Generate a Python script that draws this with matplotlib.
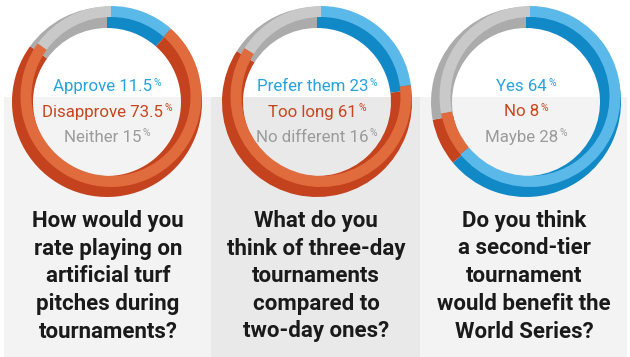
import matplotlib
matplotlib.use("Agg")
import matplotlib.pyplot as plt
from matplotlib.patches import Rectangle, Wedge

W, H = 630, 357

# ---- data ----
questions = [
    ["How would you", "rate playing on", "artificial turf", "pitches during", "tournaments?"],
    ["What do you", "think of three-day", "tournaments", "compared to", "two-day ones?"],
    ["Do you think", "a second-tier", "tournament", "would benefit the", "World Series?"],
]
labels1 = ["Approve", "Disapprove", "Neither"]
values1 = [11.5, 73.5, 15]
labels2 = ["Prefer them", "Too long", "No different"]
values2 = [23, 61, 16]
labels3 = ["Yes", "No", "Maybe"]
values3 = [64, 8, 28]
charts = [(labels1, values1), (labels2, values2), (labels3, values3)]

# ---- style ----
dark_cols = ["#1089c6", "#c4421d", "#ababab"]
light_cols = ["#5bb9ea", "#e06b3c", "#c9c9c9"]
text_cols = ["#27a2dd", "#c8461f", "#9b9b9b"]
panel_cols = ["#f3f3f3", "#e9e9e9", "#f3f3f3"]
centers_x = [107, 317, 526]
cy_px = 102
R, RW = 95, 21
LR, LW = 90.5, 11
OFFX, OFFY = 4, 5.5

fig = plt.figure(figsize=(W / 100, H / 100), dpi=100)
fig.patch.set_facecolor("white")
ax = fig.add_axes([0, 0, 1, 1])

def Y(y):
    return H - y

# background panels
edges = [4, 211, 420, 627]
for i in range(3):
    ax.add_patch(Rectangle((edges[i], 0), edges[i + 1] - edges[i], Y(97),
                           facecolor=panel_cols[i], edgecolor="none", zorder=0))

for i, (labels, values) in enumerate(charts):
    cx = centers_x[i]
    cy = Y(cy_px)
    wd, _ = ax.pie(values, colors=dark_cols, startangle=90, counterclock=False,
                   radius=R, center=(cx, cy),
                   wedgeprops=dict(width=RW, linewidth=0))
    wl, _ = ax.pie(values, colors=light_cols, startangle=90, counterclock=False,
                   radius=LR, center=(cx + OFFX, cy + OFFY),
                   wedgeprops=dict(width=LW, linewidth=0))
    clip = Wedge((cx, cy), R, 0, 360, width=RW, transform=ax.transData)
    for w in wl:
        w.set_clip_path(clip)

ax.set_xlim(0, W)
ax.set_ylim(0, H)
ax.set_aspect("auto")
ax.axis("off")

fig.canvas.draw()
renderer = fig.canvas.get_renderer()

label_font = "Roboto"
baselines = [91, 116.5, 142]
for i, (labels, values) in enumerate(charts):
    cx = centers_x[i]
    for j, (lab, v) in enumerate(zip(labels, values)):
        main = ax.text(0, Y(baselines[j]), f"{lab} {v:g}", fontsize=12.2,
                       family=label_font, color=text_cols[j], va="baseline", ha="left")
        pct = ax.text(0, Y(baselines[j] - 5.5), "%", fontsize=7.5,
                      family=label_font, color=text_cols[j], va="baseline", ha="left")
        bm = main.get_window_extent(renderer)
        bp = pct.get_window_extent(renderer)
        tot = bm.width + 1 + bp.width
        x0 = cx - tot / 2
        main.set_x(x0)
        pct.set_x(x0 + bm.width + 1)

q_base = [227, 254.5, 282, 310, 337.5]
q_x = [108, 316, 524]
for i, lines in enumerate(questions):
    for k, line in enumerate(lines):
        ax.text(q_x[i], Y(q_base[k]), line, fontsize=16, fontweight="bold",
                family="Roboto", color="#1a1a1a", ha="center", va="baseline")

fig.savefig("out.png", dpi=100, facecolor="white")
